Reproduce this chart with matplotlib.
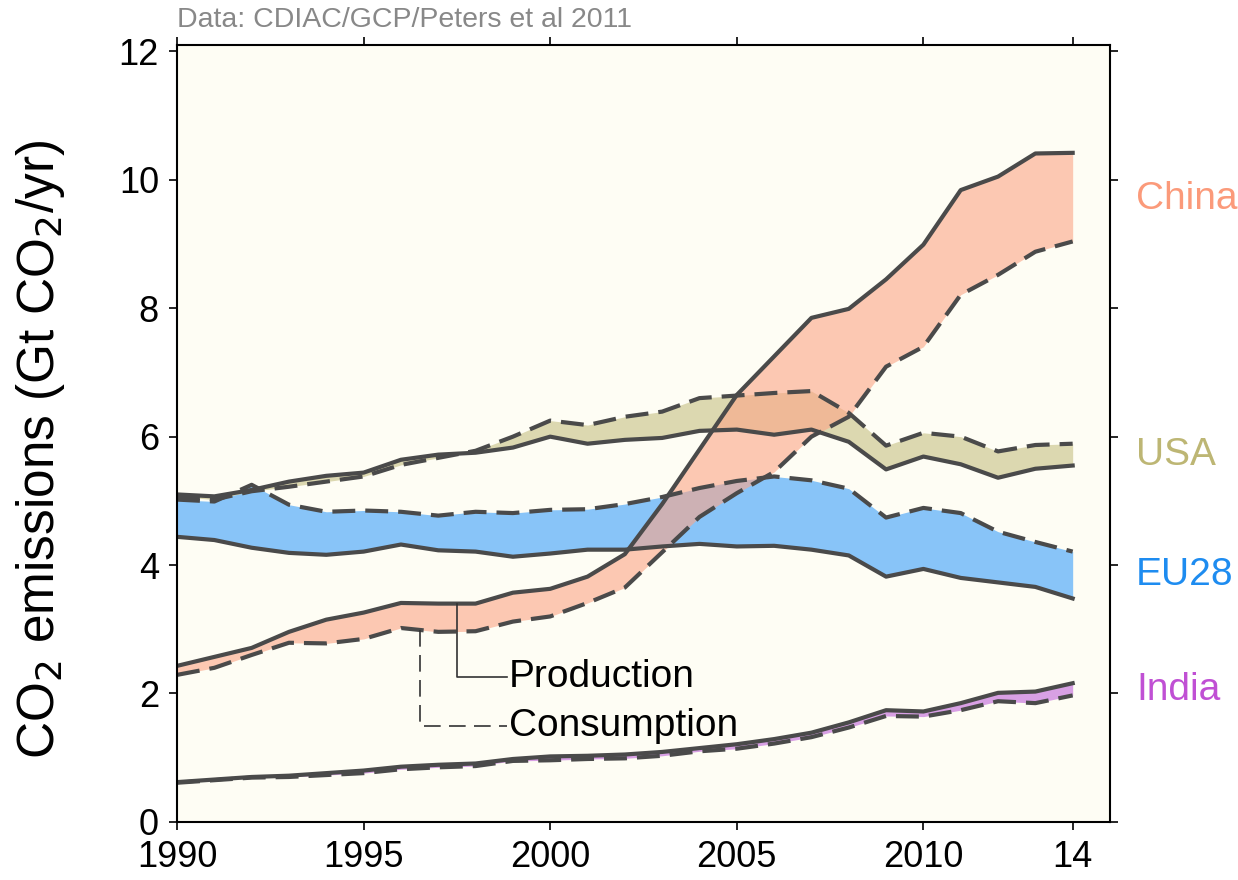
import numpy as np
import matplotlib.pyplot as plt

plt.rcParams["font.family"] = ["Liberation Sans", "DejaVu Sans"]

years = np.arange(1990, 2015)

china_prod = [2.43, 2.57, 2.71, 2.96, 3.15, 3.26, 3.41, 3.40, 3.40, 3.57, 3.63, 3.82, 4.17,
              4.95, 5.80, 6.65, 7.25, 7.85, 7.99, 8.45, 8.99, 9.84, 10.05, 10.41, 10.42]
china_cons = [2.29, 2.40, 2.60, 2.79, 2.78, 2.85, 3.02, 2.96, 2.97, 3.12, 3.20, 3.41, 3.65,
              4.20, 4.75, 5.12, 5.45, 6.00, 6.31, 7.09, 7.40, 8.21, 8.52, 8.88, 9.04]

usa_prod = [5.10, 5.07, 5.17, 5.30, 5.39, 5.44, 5.64, 5.72, 5.75, 5.83, 6.00, 5.89, 5.95,
            5.98, 6.09, 6.11, 6.03, 6.11, 5.92, 5.49, 5.69, 5.57, 5.36, 5.50, 5.55]
usa_cons = [5.07, 5.02, 5.15, 5.22, 5.30, 5.38, 5.56, 5.67, 5.78, 6.00, 6.25, 6.18, 6.31,
            6.39, 6.60, 6.64, 6.68, 6.71, 6.37, 5.86, 6.06, 6.00, 5.77, 5.87, 5.89]

eu_prod = [4.44, 4.39, 4.27, 4.19, 4.16, 4.21, 4.32, 4.23, 4.21, 4.13, 4.18, 4.24, 4.24,
           4.29, 4.33, 4.29, 4.30, 4.24, 4.15, 3.82, 3.94, 3.80, 3.73, 3.66, 3.48]
eu_cons = [5.02, 4.99, 5.25, 4.94, 4.83, 4.85, 4.83, 4.77, 4.83, 4.81, 4.86, 4.87, 4.95,
           5.06, 5.20, 5.31, 5.38, 5.32, 5.19, 4.74, 4.89, 4.81, 4.52, 4.36, 4.21]

india_prod = [0.62, 0.66, 0.70, 0.72, 0.76, 0.80, 0.86, 0.89, 0.91, 0.98, 1.02, 1.03, 1.05,
              1.09, 1.15, 1.21, 1.29, 1.39, 1.55, 1.74, 1.72, 1.85, 2.01, 2.03, 2.16]
india_cons = [0.61, 0.65, 0.69, 0.70, 0.73, 0.76, 0.82, 0.85, 0.87, 0.95, 0.96, 0.98, 0.99,
              1.03, 1.10, 1.14, 1.22, 1.32, 1.47, 1.65, 1.64, 1.74, 1.88, 1.85, 1.97]

regions = ["EU28", "USA", "China", "India"]
fill_colors = {"EU28": "#88c4f8", "USA": "#dcd8b0", "China": "#fca587", "India": "#d8a0e4"}
fill_alpha = {"EU28": 1.0, "USA": 1.0, "China": 0.6, "India": 1.0}
label_colors = {"China": "#fb9a7a", "USA": "#bdb674", "EU28": "#1e8cf0", "India": "#c050d4"}
label_y = {"China": 9.7, "USA": 5.72, "EU28": 3.85, "India": 2.06}
series = {"EU28": (eu_prod, eu_cons), "USA": (usa_prod, usa_cons),
          "China": (china_prod, china_cons), "India": (india_prod, india_cons)}

line_col = "#4a4a4a"

fig = plt.figure(figsize=(12.38, 8.8), dpi=100)
ax = fig.add_axes([0.143, 0.066, 0.7536, 0.8829])
ax.set_facecolor("#fefdf4")

for r in regions:
    prod, cons = series[r]
    ax.fill_between(years, prod, cons, color=fill_colors[r], alpha=fill_alpha[r], lw=0)
    ax.plot(years, cons, color=line_col, lw=3, dashes=(5.5, 2.4), solid_capstyle="butt")
    ax.plot(years, prod, color=line_col, lw=3)
    ax.text(1.028, label_y[r], r, color=label_colors[r], fontsize=28,
            transform=ax.get_yaxis_transform(), va="center", ha="left")

# legend connectors
ax.plot([1997.5, 1997.5, 1998.85], [3.40, 2.26, 2.26], color="#333333", lw=1.2)
ax.plot([1996.5, 1996.5, 1998.85], [2.99, 1.50, 1.50], color="#333333", lw=1.2,
        dashes=(10, 5))
ax.text(1998.9, 2.26, "Production", fontsize=28, va="center", ha="left")
ax.text(1998.9, 1.50, "Consumption", fontsize=28, va="center", ha="left")

ax.set_xlim(1990, 2015)
ax.set_ylim(0, 12.1)
ax.set_xticks([1990, 1995, 2000, 2005, 2010, 2014])
ax.set_xticklabels(["1990", "1995", "2000", "2005", "2010", "14"])
ax.set_yticks(range(0, 13, 2))
ax.tick_params(direction="out", length=6, width=1.2, labelsize=26, pad=7,
               top=True, right=True, labeltop=False, labelright=False)
for s in ax.spines.values():
    s.set_linewidth(1.5)
ax.set_ylabel("CO$_2$ emissions (Gt CO$_2$/yr)", fontsize=37)
ax.yaxis.set_label_coords(-0.118, 0.48)

fig.text(0.143, 0.992, "Data: CDIAC/GCP/Peters et al 2011", color="#888888",
         fontsize=20.5, va="top", ha="left")

fig.savefig("out.png", dpi=100)
